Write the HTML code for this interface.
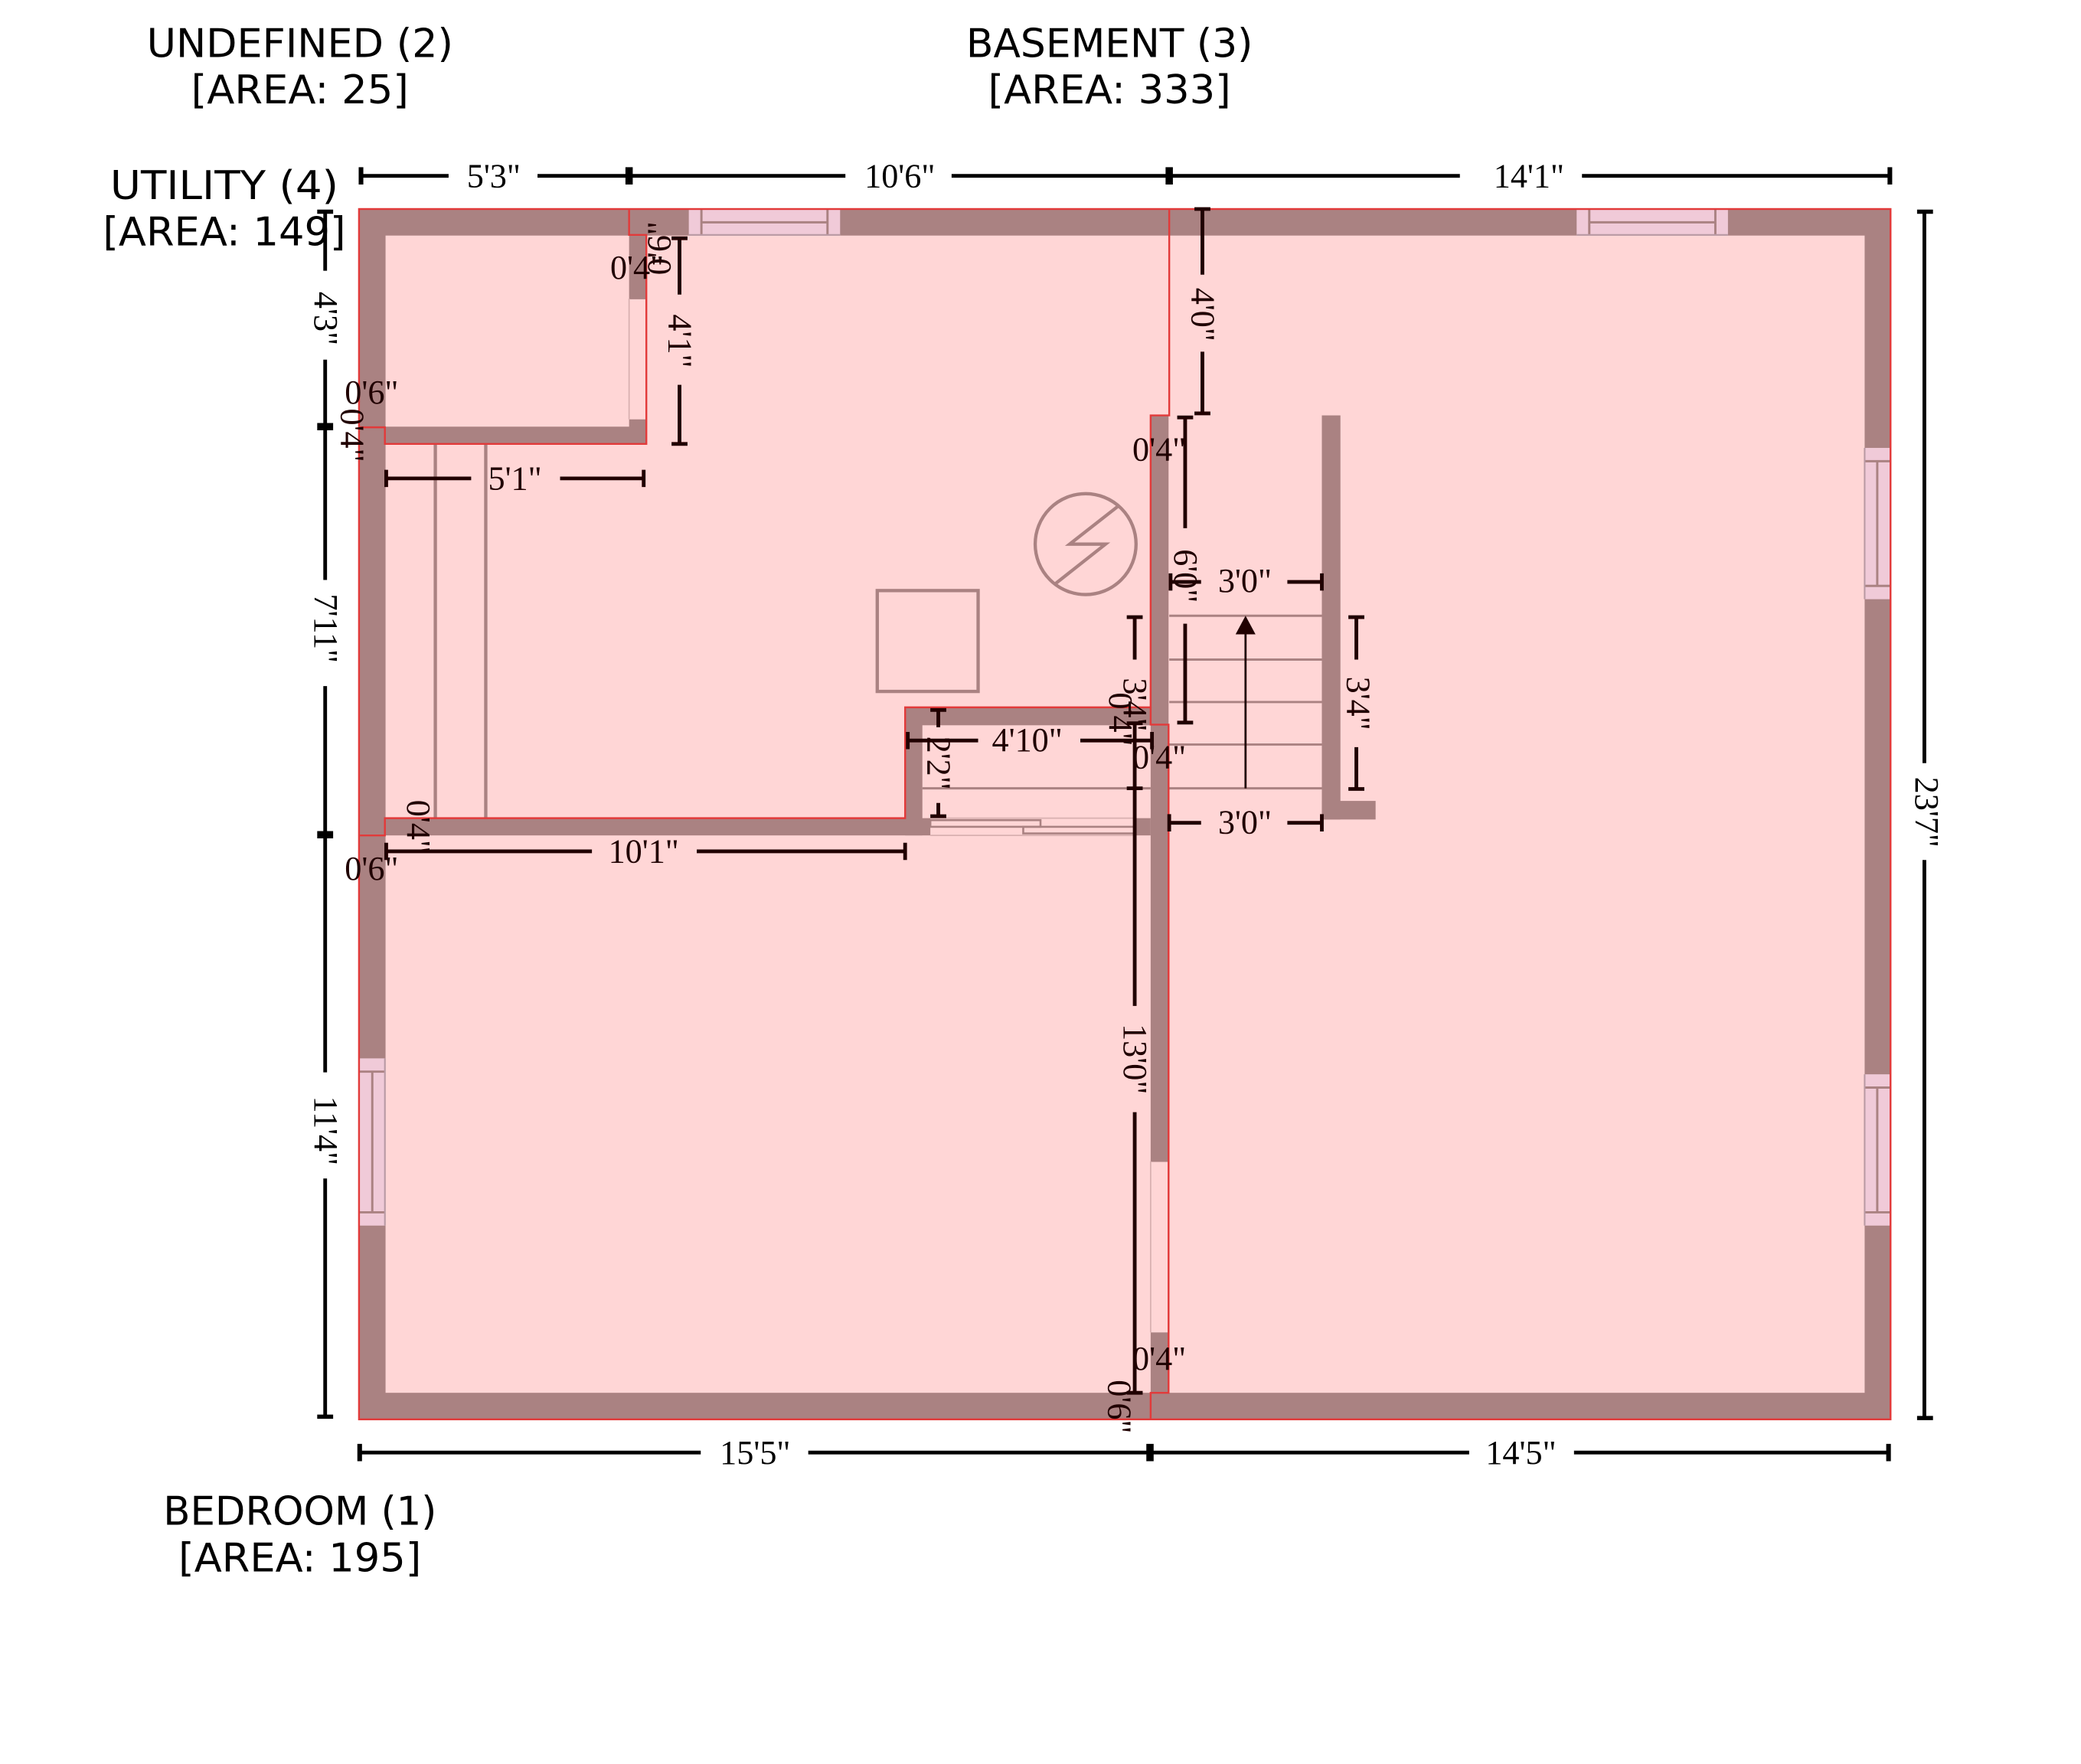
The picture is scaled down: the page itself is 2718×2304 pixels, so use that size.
<!DOCTYPE html>
<html><head><meta charset="utf-8"><style>
html,body{margin:0;padding:0;background:#fff}
svg{display:block}
.l{font-family:"DejaVu Sans","Liberation Sans",sans-serif;font-size:30px;text-anchor:middle;fill:#000}
.d{font-family:"Liberation Serif",serif;font-size:25.5px;text-anchor:middle;fill:#000}
.i{fill:#200000}
</style></head><body>
<svg width="2718" height="2304" viewBox="0 0 1568 1329.2" xmlns="http://www.w3.org/2000/svg">
<rect width="1568" height="1330" fill="#fff"/>
<!-- room fill -->
<rect x="270" y="157" width="1155" height="912.500" fill="#ffd6d6"/>
<!-- walls -->
<g fill="#aa8282">
<rect x="270" y="157" width="1155" height="20.500"/>
<rect x="270" y="157" width="20.500" height="912.500"/>
<rect x="1405" y="157" width="20" height="912.500"/>
<rect x="270" y="1049.500" width="1155" height="20"/>
<rect x="474" y="157" width="13" height="68.500"/>
<rect x="474" y="316" width="13" height="18.500"/>
<rect x="290" y="321.500" width="197" height="13"/>
<rect x="867" y="313" width="13.500" height="562.500"/>
<rect x="867" y="1004" width="13.500" height="50"/>
<rect x="996" y="313" width="14" height="304.500"/>
<rect x="996" y="603.500" width="40.500" height="14"/>
<rect x="290" y="616.500" width="411" height="13"/>
<rect x="682" y="533" width="13" height="96.500"/>
<rect x="682" y="533" width="185" height="13.500"/>
<rect x="855" y="616.500" width="12" height="13"/>
</g>
<!-- windows -->
<g fill="#f0cad8">
<rect x="519" y="158" width="114" height="19.500"/>
<rect x="1188" y="158" width="114" height="19.500"/>
<rect x="271" y="797.500" width="19.500" height="126"/>
<rect x="1405" y="337.500" width="19" height="114"/>
<rect x="1405" y="809.500" width="19" height="114"/>
</g>
<g fill="none" stroke="#aa8282" stroke-width="1.700">
<path d="M528.500 158V177M623.500 158V177M528.500 167.500H623.500"/>
<path d="M1197.500 158V177M1292.500 158V177M1197.500 167.500H1292.500"/>
<path d="M271 807.500H290M271 913.500H290M280.500 807.500V913.500"/>
<path d="M1405 347.500H1424M1405 441.500H1424M1414.500 347.500V441.500"/>
<path d="M1405 819.500H1424M1405 913.500H1424M1414.500 819.500V913.500"/>
</g>
<g fill="none" stroke="#b99aa4" stroke-width="1.200">
<path d="M519 177H633M1188 177H1302M290 797.500V923.500M1405 337.500V451.500M1405 809.500V923.500"/>
</g>
<!-- door openings -->
<g stroke="#d8b0b0" stroke-width="1" fill="none">
<path d="M474 225V316M867 875V1004M701 616.500H855M701 629.500H855"/>
</g>
<g stroke="#aa8282" stroke-width="1.500" fill="none">
<rect x="701" y="618" width="83" height="5"/>
<rect x="771" y="623" width="84" height="5"/>
</g>
<!-- fixtures -->
<g fill="none" stroke="#aa8282" stroke-width="2.500">
<path d="M328 334V616M366 334V616"/>
<rect x="661" y="445" width="76" height="76"/>
<circle cx="818" cy="410" r="38"/>
<path d="M843 381L806 410H833L795 440"/>
<path d="M881 464H996M881 497H996M881 529H996M881 561H996M881 594H996M695 594H867" stroke-width="1.700"/>
</g>
<path d="M938.500 594V476" stroke="#200000" stroke-width="1.600"/>
<path d="M938.500 464L946 478H931Z" fill="#200000"/>
<!-- red outlines -->
<g fill="none" stroke="#e23a3a" stroke-width="1.400">
<rect x="270.500" y="157.500" width="1154" height="912"/>
<path d="M474 157V177H487V334.500H290V322H270"/>
<path d="M881 157V313H867V533H682V616.500H290V629.500H270"/>
<path d="M867 533V546H880.500V1049.500H867V1069"/>
</g>
<!-- outer dimensions -->
<g fill="none" stroke="#000" stroke-width="2.800">
<path d="M272 132.500H338M405 132.500H637M717 132.500H1100M1192 132.500H1424"/>
<path d="M245 159V204M245 271V437M245 517V808M245 888V1067.500"/>
<path d="M1450 159V575M1450 648V1068.500"/>
<path d="M271 1094.500H528M609 1094.500H1107M1186 1094.500H1423"/>
<path d="M272 126V139M1424 126V139" stroke-width="3.500"/>
<path d="M474 126V139M881 126V139M866.500 1088V1101" stroke-width="5.500"/>
<path d="M271 1088V1101M1423 1088V1101" stroke-width="3.500"/>
<path d="M239 159.500H251M239 1067.500H251M1444.500 159.500H1456.500M1444.500 1068.500H1456.500" stroke-width="3.200"/>
<path d="M239 321.500H251M239 629H251" stroke-width="5.500"/>
</g>
<!-- inner dimensions -->
<g fill="none" stroke="#200000" stroke-width="2.800">
<path d="M291 360.500H355M422 360.500H485M291 354V367M485 354V367" />
<path d="M291 641.500H446M525 641.500H682M291 635V648M682 635V648"/>
<path d="M512 179.500V222M512 290V334.500M506 179.500H518M506 334.500H518"/>
<path d="M906 157.500V207M906 265V311.500M900 157.500H912M900 311.500H912"/>
<path d="M893 314.500V398M893 470V544.500M887 314.500H899M887 544.500H899"/>
<path d="M882 438.500H905M970 438.500H996M882 432V445M996 432V445"/>
<path d="M881 620H905M970 620H996M881 613.500V626.500M996 613.500V626.500"/>
<path d="M855 465V497M855 545V758M855 838V1049.500M849 465H861M849 545H861M849 594H861M849 1049.500H861"/>
<path d="M684 558H737M814 558H868M684 551.500V564.500M868 551.500V564.500"/>
<path d="M707 535V548M707 605V615M701 535H713M701 615H713"/>
<path d="M1022 465V497M1022 563V594.500M1016 465H1028M1016 594.500H1028"/>
</g>
<!-- outer labels -->
<g>
<text class="d" x="372" y="141">5'3"</text>
<text class="d" x="678" y="141">10'6"</text>
<text class="d" x="1152" y="141">14'1"</text>
<text class="d" x="569" y="1103">15'5"</text>
<text class="d" x="1146" y="1103">14'5"</text>
<text class="d" transform="translate(237,240) rotate(90)">4'3"</text>
<text class="d" transform="translate(237,473.500) rotate(90)">7'11"</text>
<text class="d" transform="translate(237,852) rotate(90)">11'4"</text>
<text class="d" transform="translate(1443.500,612) rotate(90)">23'7"</text>
</g>
<!-- inner labels -->
<g>
<text class="d i" x="388" y="369">5'1"</text>
<text class="d i" x="485" y="650">10'1"</text>
<text class="d i" x="480" y="210">0'4"</text>
<text class="d i" x="280" y="304">0'6"</text>
<text class="d i" x="280" y="663">0'6"</text>
<text class="d i" x="873.500" y="347">0'4"</text>
<text class="d i" x="873.500" y="579">0'4"</text>
<text class="d i" x="873.500" y="1032">0'4"</text>
<text class="d i" x="938" y="446">3'0"</text>
<text class="d i" x="938" y="628">3'0"</text>
<text class="d i" x="774" y="566">4'10"</text>
<text class="d i" transform="translate(504,257) rotate(90)">4'1"</text>
<text class="d i" transform="translate(898,237) rotate(90)">4'0"</text>
<text class="d i" transform="translate(885,434) rotate(90)">6'0"</text>
<text class="d i" transform="translate(847,531) rotate(90)">3'4"</text>
<text class="d i" transform="translate(1015,530) rotate(90)">3'4"</text>
<text class="d i" transform="translate(847,798) rotate(90)">13'0"</text>
<text class="d i" transform="translate(699,575) rotate(90)">2'2"</text>
<text class="d i" transform="translate(257,328) rotate(90)">0'4"</text>
<text class="d i" transform="translate(307,623) rotate(90)">0'4"</text>
<text class="d i" transform="translate(836,542) rotate(90)">0'4"</text>
<text class="d i" transform="translate(835,1060) rotate(90)">0'6"</text>
<text class="d i" transform="translate(505,187) rotate(-90)">0'6"</text>
</g>
<!-- zone labels -->
<text class="l" x="226" y="43" textLength="231" lengthAdjust="spacingAndGlyphs">UNDEFINED (2)</text>
<text class="l" x="226" y="78" textLength="164" lengthAdjust="spacingAndGlyphs">[AREA: 25]</text>
<text class="l" x="836" y="43" textLength="216" lengthAdjust="spacingAndGlyphs">BASEMENT (3)</text>
<text class="l" x="836" y="78" textLength="183" lengthAdjust="spacingAndGlyphs">[AREA: 333]</text>
<text class="l" x="169" y="150" textLength="172" lengthAdjust="spacingAndGlyphs">UTILITY (4)</text>
<text class="l" x="169" y="185" textLength="183" lengthAdjust="spacingAndGlyphs">[AREA: 149]</text>
<text class="l" x="226" y="1149" textLength="206" lengthAdjust="spacingAndGlyphs">BEDROOM (1)</text>
<text class="l" x="226" y="1184" textLength="183" lengthAdjust="spacingAndGlyphs">[AREA: 195]</text>
</svg>
</body></html>
